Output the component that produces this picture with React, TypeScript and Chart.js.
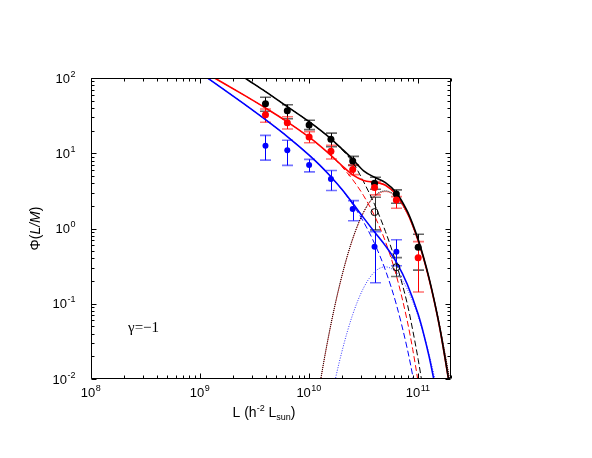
import React, { useEffect, useRef } from 'react';
import { Chart, registerables } from 'chart.js';

Chart.register(...registerables);

// ---------- axis ranges & ticks ----------
const X_MIN = 1e8;
const X_MAX = 2e11;
const Y_MIN = 1e-2;
const Y_MAX = 1e2;
const xTickExps = [8, 9, 10, 11];
const yTickExps = [-2, -1, 0, 1, 2];

// ---------- measured points ----------
const dataL = [3.98e9, 6.31e9, 1.0e10, 1.585e10, 2.51e10, 3.98e10, 6.31e10, 1.0e11];

const blackPhi = [45.6, 36.8, 23.8, 15.3, 7.9, 4.0, 2.88, 0.565];
const blackLo = [36.1, 28.8, 20.6, 12.2, 6.9, 3.33, 2.17, 0.28];
const blackHi = [55.4, 44.2, 27.4, 18.5, 9.1, 4.8, 3.26, 0.84];

const redPhi = [32.6, 25.5, 16.4, 10.6, 6.1, 3.5, 2.4, 0.41];
const redLo = [25.8, 21.0, 13.8, 8.4, 5.2, 2.8, 1.86, 0.143];
const redHi = [38.7, 30.6, 19.4, 12.8, 7.0, 4.2, 2.65, 0.67];

const blueL = [3.98e9, 6.31e9, 1.0e10, 1.585e10, 2.51e10, 3.98e10, 6.31e10];
const bluePhi = [12.6, 11.0, 7.0, 4.56, 1.82, 0.57, 0.49];
const blueLo = [8.1, 6.9, 5.65, 3.2, 1.27, 0.19, 0.32];
const blueHi = [17.3, 14.9, 8.3, 5.9, 2.35, 0.91, 0.71];

const openL = [3.98e10, 6.31e10];
const openPhi = [1.65, 0.306];
const openLo = [0.96, 0.23];
const openHi = [2.6, 0.41];

// ---------- model curves (log10 L, log10 Phi) ----------
const blackSolidLogL = [9.3, 9.4, 9.6, 9.8, 10.0, 10.1, 10.2, 10.3, 10.4, 10.5, 10.6, 10.7, 10.8, 10.9, 10.95, 11.0, 11.05, 11.1, 11.15, 11.2, 11.25, 11.3];
const blackSolidLogPhi = [2.11, 2.01, 1.82, 1.62, 1.42, 1.31, 1.192, 1.059, 0.92, 0.766, 0.681, 0.61, 0.476, 0.231, 0.058, -0.147, -0.386, -0.66, -0.975, -1.33, -1.75, -2.19];

const blackDashedLogL = [9.3, 9.4, 9.6, 9.8, 10.0, 10.1, 10.2, 10.3, 10.4, 10.5, 10.6, 10.7, 10.8, 10.9, 10.95, 11.0, 11.05];
const blackDashedLogPhi = [2.11, 2.01, 1.82, 1.62, 1.42, 1.31, 1.19, 1.05, 0.88, 0.62, 0.32, -0.04, -0.47, -1.0, -1.35, -1.74, -2.18];

const dottedLogL = [10.1, 10.15, 10.2, 10.25, 10.3, 10.35, 10.4, 10.45, 10.5, 10.55, 10.6, 10.65, 10.7, 10.75, 10.8, 10.85, 10.9, 10.95, 11.0, 11.05, 11.1, 11.15, 11.2, 11.25, 11.3];
const blackDottedLogPhi = [-2.054, -1.644, -1.27, -0.932, -0.63, -0.363, -0.132, 0.063, 0.222, 0.345, 0.433, 0.484, 0.5, 0.48, 0.424, 0.332, 0.205, 0.041, -0.158, -0.393, -0.664, -0.971, -1.313, -1.692, -2.106];
const redDottedLogPhi = [-2.064, -1.654, -1.28, -0.942, -0.64, -0.373, -0.142, 0.053, 0.212, 0.335, 0.423, 0.474, 0.49, 0.47, 0.414, 0.322, 0.195, 0.031, -0.168, -0.403, -0.674, -0.981, -1.323, -1.702, -2.116];

const redSolidLogL = [9.0, 9.2, 9.4, 9.6, 9.8, 10.0, 10.1, 10.2, 10.3, 10.4, 10.5, 10.6, 10.65, 10.7, 10.8, 10.9, 10.95, 11.0, 11.05, 11.1, 11.15, 11.2, 11.25, 11.3];
const redSolidLogPhi = [2.11, 1.944, 1.775, 1.601, 1.417, 1.213, 1.098, 0.972, 0.837, 0.713, 0.639, 0.615, 0.6, 0.575, 0.452, 0.211, 0.041, -0.162, -0.4, -0.673, -0.985, -1.34, -1.76, -2.2];

const redDashedLogL = [9.0, 9.2, 9.4, 9.6, 9.8, 10.0, 10.1, 10.2, 10.3, 10.4, 10.5, 10.6, 10.7, 10.8, 10.9, 10.95, 11.0, 11.05];
const redDashedLogPhi = [2.11, 1.944, 1.775, 1.601, 1.417, 1.213, 1.098, 0.97, 0.822, 0.648, 0.435, 0.168, -0.175, -0.626, -1.229, -1.606, -2.046, -2.56];

const blueSolidLogL = [9.0, 9.2, 9.4, 9.6, 9.8, 10.0, 10.1, 10.2, 10.3, 10.4, 10.5, 10.6, 10.7, 10.8, 10.9, 11.0, 11.05, 11.1, 11.15, 11.2];
const blueSolidLogPhi = [2.069, 1.866, 1.659, 1.446, 1.222, 0.976, 0.839, 0.688, 0.521, 0.335, 0.141, -0.047, -0.231, -0.447, -0.74, -1.141, -1.4, -1.7, -2.05, -2.4];

const blueDashedLogL = [9.0, 9.2, 9.4, 9.6, 9.8, 10.0, 10.1, 10.2, 10.3, 10.4, 10.5, 10.6, 10.7, 10.8, 10.9, 10.95, 11.0];
const blueDashedLogPhi = [2.069, 1.866, 1.659, 1.446, 1.222, 0.976, 0.839, 0.688, 0.518, 0.32, 0.086, -0.199, -0.555, -1.01, -1.598, -1.957, -2.371];

const blueDottedLogL = [10.2, 10.25, 10.3, 10.35, 10.4, 10.45, 10.5, 10.55, 10.6, 10.65, 10.7, 10.75, 10.8, 10.85, 10.9, 10.95, 11.0, 11.05, 11.1, 11.15, 11.2];
const blueDottedLogPhi = [-2.28, -1.94, -1.64, -1.373, -1.142, -0.947, -0.788, -0.665, -0.577, -0.526, -0.51, -0.53, -0.586, -0.678, -0.805, -0.969, -1.168, -1.403, -1.674, -1.981, -2.32];

// ---------- texts ----------
const yTitleParts = ['Φ(', 'L/M', ')'];
const gammaLabel = 'γ=−1';

const SANS = "'Liberation Sans', Arial, Helvetica, sans-serif";
const SERIF = "'Liberation Serif', 'Times New Roman', serif";

const curve = (logL: number[], logPhi: number[]) =>
  logL.map((l, i) => ({ x: Math.pow(10, l), y: Math.pow(10, logPhi[i]) }));
const pts = (xs: number[], ys: number[]) => xs.map((x, i) => ({ x, y: ys[i] }));

const lineDs = (data: any[], color: string, width: number, dash: number[] = [], dashOffset = 0) => ({
  data,
  showLine: true,
  borderColor: color,
  borderWidth: width,
  borderDash: dash,
  borderDashOffset: dashOffset,
  pointRadius: 0,
  fill: false,
  cubicInterpolationMode: 'monotone' as const,
});

const pointDs = (data: any[], color: string, radius: number, hollow = false) => ({
  data,
  showLine: false,
  pointRadius: radius,
  pointBackgroundColor: hollow ? 'rgba(0,0,0,0)' : color,
  pointBorderColor: color,
  pointBorderWidth: hollow ? 1 : 0,
  pointHoverRadius: radius,
});

const errorGroups = [
  { xs: openL, lo: openLo, hi: openHi, color: '#333333', cap: 'rgba(0,0,0,0.55)' },
  { xs: dataL, lo: blackLo, hi: blackHi, color: '#000000', cap: 'rgba(0,0,0,0.6)' },
  { xs: dataL, lo: redLo, hi: redHi, color: '#ff0000', cap: 'rgba(255,0,0,0.55)' },
  { xs: blueL, lo: blueLo, hi: blueHi, color: '#0000ff', cap: 'rgba(0,0,255,0.55)' },
];

const errorBarPlugin = {
  id: 'errorBars',
  beforeDatasetsDraw(chart: any) {
    const { ctx, chartArea: a, scales } = chart;
    const xs = scales.x;
    const ys = scales.y;
    ctx.save();
    ctx.beginPath();
    ctx.rect(a.left, a.top, a.right - a.left, a.bottom - a.top);
    ctx.clip();
    for (const g of errorGroups) {
      for (let i = 0; i < g.xs.length; i++) {
        const px = Math.round(xs.getPixelForValue(g.xs[i])) + 0.5;
        const yt = ys.getPixelForValue(g.hi[i]);
        const yb = ys.getPixelForValue(g.lo[i]);
        ctx.strokeStyle = g.color;
        ctx.lineWidth = 1;
        ctx.beginPath();
        ctx.moveTo(px, yt);
        ctx.lineTo(px, yb);
        ctx.stroke();
        ctx.strokeStyle = g.cap;
        ctx.lineWidth = 1.6;
        ctx.beginPath();
        ctx.moveTo(px - 5.5, yt);
        ctx.lineTo(px + 5.5, yt);
        ctx.moveTo(px - 5.5, yb);
        ctx.lineTo(px + 5.5, yb);
        ctx.stroke();
      }
    }
    ctx.restore();
  },
};

function drawPow(ctx: CanvasRenderingContext2D, exp: string, x: number, baseY: number, align: 'center' | 'right') {
  ctx.font = `13px ${SANS}`;
  const wb = ctx.measureText('10').width;
  ctx.font = `9px ${SANS}`;
  const we = ctx.measureText(exp).width;
  const w = wb + we;
  const start = align === 'center' ? x - w / 2 : x - w;
  ctx.textAlign = 'left';
  ctx.textBaseline = 'alphabetic';
  ctx.font = `13px ${SANS}`;
  ctx.fillText('10', start, baseY);
  ctx.font = `9px ${SANS}`;
  ctx.fillText(exp, start + wb + 0.5, baseY - 6);
}

const axesPlugin = {
  id: 'gnuplotAxes',
  afterDatasetsDraw(chart: any) {
    const { ctx, chartArea: a, scales } = chart;
    const xs = scales.x;
    const ys = scales.y;
    const l = Math.round(a.left) + 0.5;
    const r = Math.round(a.right) - 0.5;
    const t = Math.round(a.top) + 0.5;
    const b = Math.round(a.bottom) - 0.5;
    ctx.save();
    ctx.strokeStyle = '#000';
    ctx.lineWidth = 1;
    ctx.beginPath();
    ctx.rect(l, t, r - l, b - t);
    for (const e of xTickExps) {
      for (let m = 1; m <= 9; m++) {
        const v = m * Math.pow(10, e);
        if (v < X_MIN * 0.999 || v > X_MAX * 1.001) continue;
        const px = Math.round(xs.getPixelForValue(v)) + 0.5;
        const len = m === 1 ? 5 : 3;
        ctx.moveTo(px, b);
        ctx.lineTo(px, b - len);
        ctx.moveTo(px, t);
        ctx.lineTo(px, t + len);
      }
    }
    for (const e of yTickExps) {
      for (let m = 1; m <= 9; m++) {
        const v = m * Math.pow(10, e);
        if (v < Y_MIN * 0.999 || v > Y_MAX * 1.001) continue;
        const py = Math.round(ys.getPixelForValue(v)) + 0.5;
        const len = m === 1 ? 5 : 3;
        ctx.moveTo(l, py);
        ctx.lineTo(l + len, py);
        ctx.moveTo(r, py);
        ctx.lineTo(r - len, py);
      }
    }
    ctx.stroke();

    ctx.fillStyle = '#000';
    for (const e of xTickExps) {
      const px = xs.getPixelForValue(Math.pow(10, e));
      drawPow(ctx, String(e), px - 0.5, 397, 'center');
    }
    for (const e of yTickExps) {
      const py = ys.getPixelForValue(Math.pow(10, e));
      drawPow(ctx, String(e), 75, py + 4.5, 'right');
    }

    const parts: { s: string; size: number; dy: number }[] = [
      { s: 'L (h', size: 14, dy: 0 },
      { s: '-2', size: 9, dy: -6 },
      { s: ' L', size: 14, dy: 0 },
      { s: 'sun', size: 9, dy: 3 },
      { s: ')', size: 14, dy: 0 },
    ];
    let total = 0;
    for (const p of parts) {
      ctx.font = `${p.size}px ${SANS}`;
      total += ctx.measureText(p.s).width;
    }
    let cx = 264 - total / 2;
    ctx.textAlign = 'left';
    ctx.textBaseline = 'alphabetic';
    for (const p of parts) {
      ctx.font = `${p.size}px ${SANS}`;
      ctx.fillText(p.s, cx, 417 + p.dy);
      cx += ctx.measureText(p.s).width;
    }

    ctx.save();
    ctx.translate(36, (a.top + a.bottom) / 2);
    ctx.rotate(-Math.PI / 2);
    const fonts = [`14px ${SANS}`, `italic 14px ${SANS}`, `14px ${SANS}`];
    let tw = 0;
    yTitleParts.forEach((s, i) => {
      ctx.font = fonts[i];
      tw += ctx.measureText(s).width;
    });
    let tx = -tw / 2;
    ctx.textBaseline = 'middle';
    yTitleParts.forEach((s, i) => {
      ctx.font = fonts[i];
      ctx.fillText(s, tx, 0);
      tx += ctx.measureText(s).width;
    });
    ctx.restore();

    ctx.font = `15px ${SERIF}`;
    ctx.textAlign = 'left';
    ctx.textBaseline = 'alphabetic';
    ctx.fillText(gammaLabel, 128, 332);
    ctx.restore();
  },
};

export default function App() {
  const ref = useRef<HTMLCanvasElement>(null);

  useEffect(() => {
    if (!ref.current) return;
    const datasets: any[] = [
      pointDs(pts(dataL, redPhi), '#ff0000', 3.5),
      pointDs(pts(dataL, blackPhi), '#000000', 3.5),
      pointDs(pts(blueL, bluePhi), '#0000ff', 3.0),
      pointDs(pts(openL, openPhi), '#000000', 3.5, true),
      lineDs(curve(blackSolidLogL, blackSolidLogPhi), '#000000', 1.6),
      lineDs(curve(redSolidLogL, redSolidLogPhi), '#ff0000', 1.6),
      lineDs(curve(blueSolidLogL, blueSolidLogPhi), '#0000ff', 1.6),
      lineDs(curve(blackDashedLogL, blackDashedLogPhi), '#000000', 1, [6, 3]),
      lineDs(curve(redDashedLogL, redDashedLogPhi), '#ff0000', 1, [6, 3]),
      lineDs(curve(blueDashedLogL, blueDashedLogPhi), '#0000ff', 1, [6, 3]),
      lineDs(curve(dottedLogL, blackDottedLogPhi), '#000000', 1, [1, 1], 1),
      lineDs(curve(dottedLogL, redDottedLogPhi), '#ff0000', 1, [1, 1]),
      lineDs(curve(blueDottedLogL, blueDottedLogPhi), '#3333ff', 1, [1, 1.5]),
    ];
    const chart = new Chart(ref.current, {
      type: 'scatter',
      data: { datasets },
      options: {
        animation: false,
        responsive: false,
        devicePixelRatio: 1,
        layout: { padding: { left: 91, top: 78, right: 141, bottom: 79 } },
        plugins: { legend: { display: false }, tooltip: { enabled: false } },
        events: [],
        scales: {
          x: { type: 'logarithmic', min: X_MIN, max: X_MAX, display: false },
          y: { type: 'logarithmic', min: Y_MIN, max: Y_MAX, display: false },
        },
      },
      plugins: [errorBarPlugin, axesPlugin],
    } as any);
    return () => chart.destroy();
  }, []);

  return (
    <div style={{ position: 'absolute', left: 0, top: 0, width: 592, height: 458, background: '#fff' }}>
      <canvas ref={ref} width={592} height={458} style={{ width: 592, height: 458, display: 'block' }} />
    </div>
  );
}
